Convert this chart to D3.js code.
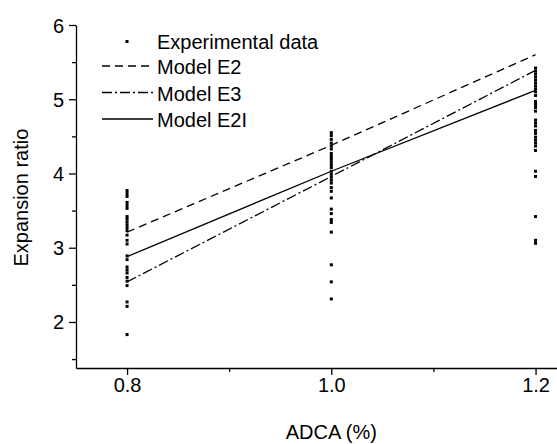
<!DOCTYPE html>
<html>
<head>
<meta charset="utf-8">
<script src="https://cdn.jsdelivr.net/npm/d3@7/dist/d3.min.js"></script>
<style>
  html, body { margin: 0; padding: 0; background: #fff; }
  svg { display: block; }
  text { font-family: "Liberation Sans", Arial, Helvetica, sans-serif; fill: #000; }
</style>
</head>
<body>
<svg id="chart" width="557" height="444"></svg>
<script>
// ADCA content (%) at which the samples were foamed
const adcaLevels = [0.8, 1.0, 1.2];

// Measured expansion ratios, one list per ADCA level
const experimental08 = [3.77, 3.73, 3.69, 3.61, 3.57, 3.53, 3.42, 3.39, 3.35, 3.31, 3.27, 3.23, 3.17,
  3.10, 3.05, 2.89, 2.84, 2.74, 2.70, 2.66, 2.60, 2.55, 2.49, 2.27, 2.21, 1.83];
const experimental10 = [4.55, 4.51, 4.46, 4.41, 4.37, 4.33, 4.27, 4.23, 4.20, 4.16, 4.12, 4.08, 4.03,
  3.99, 3.95, 3.91, 3.87, 3.81, 3.76, 3.67, 3.52, 3.46, 3.38, 3.34, 3.21, 2.77, 2.54, 2.31];
const experimental12 = [5.42, 5.38, 5.34, 5.30, 5.26, 5.22, 5.18, 5.14, 5.10, 5.05, 4.97, 4.93, 4.89,
  4.84, 4.72, 4.68, 4.64, 4.58, 4.54, 4.49, 4.45, 4.41, 4.37, 4.31, 4.03, 3.96, 3.42, 3.10, 3.06];

// Model predictions at each ADCA level
const modelE2 = [3.21, 4.38, 5.60];
const modelE3 = [2.54, 3.96, 5.39];
const modelE2I = [2.88, 4.03, 5.12];

// Axis ticks
const xMajorTicks = [0.8, 1.0, 1.2];
const xMinorTicks = [0.9, 1.1];
const yMajorTicks = [2, 3, 4, 5, 6];
const yMinorTicks = [1.5, 2.5, 3.5, 4.5, 5.5];

const legendLabels = ["Experimental data", "Model E2", "Model E3", "Model E2I"];

const svg = d3.select("#chart");
const fontSize = 20;

const x = d3.scaleLinear().domain([0.75, 1.221]).range([76, 557]);
const y = d3.scaleLinear().domain([1.38, 6]).range([368, 25]);

// Minor ticks
svg.append("g")
  .attr("transform", `translate(0,${y.range()[0]})`)
  .call(d3.axisBottom(x).tickValues(xMinorTicks).tickSize(4).tickFormat(""))
  .call(g => g.select(".domain").remove());
svg.append("g")
  .attr("transform", `translate(${x.range()[0]},0)`)
  .call(d3.axisLeft(y).tickValues(yMinorTicks).tickSize(4).tickFormat(""))
  .call(g => g.select(".domain").remove());

// Major ticks and labels
const xAxis = svg.append("g")
  .attr("transform", `translate(0,${y.range()[0]})`)
  .call(d3.axisBottom(x).tickValues(xMajorTicks).tickSize(7).tickSizeOuter(0).tickFormat(d3.format(".1f")));
const yAxis = svg.append("g")
  .attr("transform", `translate(${x.range()[0]},0)`)
  .call(d3.axisLeft(y).tickValues(yMajorTicks).tickSize(7).tickSizeOuter(0).tickFormat(d3.format("d")));

svg.selectAll(".tick line, .domain")
  .attr("stroke", "#000").attr("stroke-width", 1.3);

xAxis.selectAll(".tick text")
  .attr("y", 24).attr("dy", null)
  .attr("font-size", fontSize);
yAxis.selectAll(".tick text")
  .attr("x", -12).attr("dy", "0.35em")
  .attr("font-size", fontSize);
svg.selectAll(".tick text")
  .attr("font-family", "Liberation Sans, Arial, sans-serif")
  .attr("fill", "#000");

// Axis titles
svg.append("text")
  .attr("x", x(1.0)).attr("y", 439)
  .attr("text-anchor", "middle")
  .attr("font-size", fontSize)
  .text("ADCA (%)");
svg.append("text")
  .attr("transform", `translate(28,${(y(4) + y(3)) / 2 - 13}) rotate(-90)`)
  .attr("text-anchor", "middle")
  .attr("font-size", fontSize)
  .text("Expansion ratio");

// Experimental points
const experimentalSets = [experimental08, experimental10, experimental12];
const points = [];
experimentalSets.forEach((vals, i) => vals.forEach(v => points.push({ x: adcaLevels[i], y: v })));
const ms = 3;
svg.append("g").selectAll("rect")
  .data(points)
  .join("rect")
  .attr("x", d => x(d.x) - ms / 2)
  .attr("y", d => y(d.y) - ms / 2)
  .attr("width", ms).attr("height", ms)
  .attr("fill", "#000");

// Model lines
const models = [
  { values: modelE2, dash: "8,5" },
  { values: modelE3, dash: "10,3,2,3" },
  { values: modelE2I, dash: null }
];
const line = d3.line().x((d, i) => x(adcaLevels[i])).y(d => y(d));
models.forEach(m => {
  svg.append("path")
    .datum(m.values)
    .attr("d", line)
    .attr("fill", "none")
    .attr("stroke", "#000")
    .attr("stroke-width", 1.3)
    .attr("stroke-dasharray", m.dash);
});

// Legend
const legendRows = [40.5, 66, 92.5, 119];
const lg = svg.append("g");
lg.append("rect")
  .attr("x", 127 - ms / 2).attr("y", legendRows[0] + 1 - ms / 2)
  .attr("width", ms).attr("height", ms).attr("fill", "#000");
models.forEach((m, i) => {
  lg.append("line")
    .attr("x1", 102).attr("x2", 153)
    .attr("y1", legendRows[i + 1]).attr("y2", legendRows[i + 1])
    .attr("stroke", "#000").attr("stroke-width", 1.3)
    .attr("stroke-dasharray", m.dash);
});
legendLabels.forEach((t, i) => {
  lg.append("text")
    .attr("x", 157).attr("y", legendRows[i] + 1)
    .attr("dy", "0.35em")
    .attr("font-size", fontSize)
    .text(t);
});
</script>
</body>
</html>
